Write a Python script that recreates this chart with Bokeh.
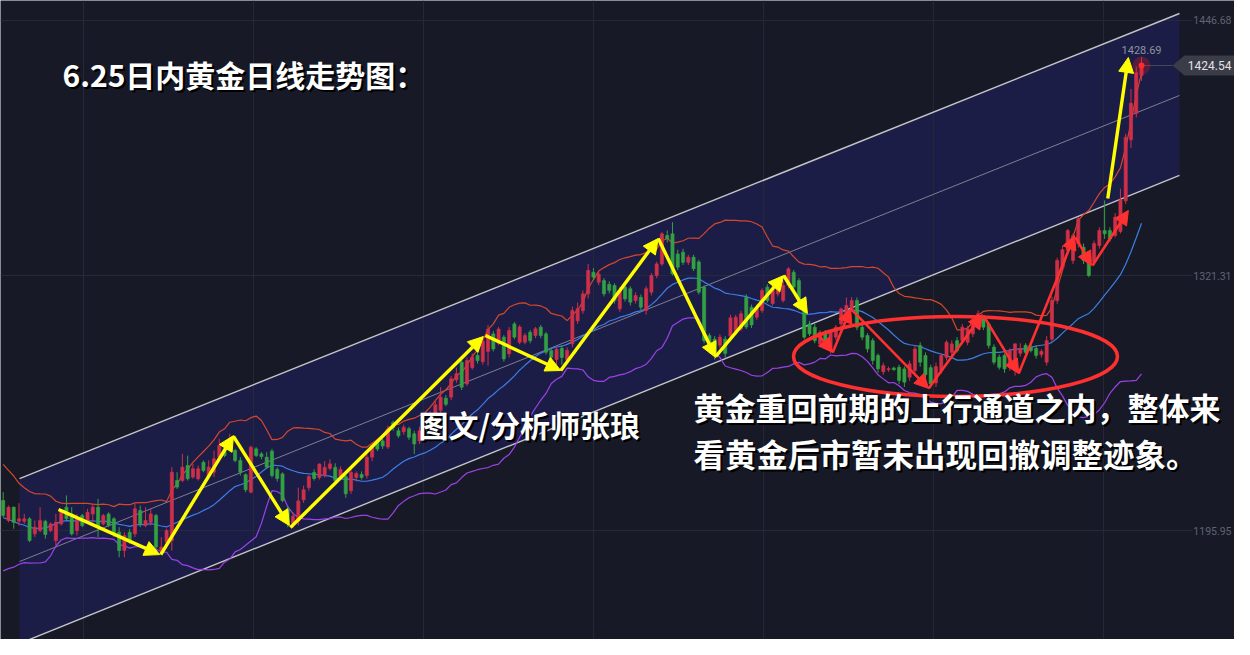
import pandas as pd
from bokeh.plotting import figure
from bokeh.models import Range1d, ColumnDataSource, Arrow, NormalHead, Label
from bokeh.core.properties import value
from bokeh.embed import file_html
from bokeh.resources import INLINE

# ---------------- data (daily gold candles) ----------------
opens = [
    1210.7, 1200.9, 1207.4, 1200.5, 1200.5, 1201.7, 1194.3, 1195.9, 1200.5, 1195.9,
    1191.0, 1199.2, 1207.4, 1204.1, 1195.9, 1203.3, 1200.9, 1204.1, 1207.4, 1199.2,
    1204.1, 1201.7, 1195.1, 1186.1, 1195.1, 1194.3, 1205.8, 1198.4, 1200.0, 1203.3,
    1186.1, 1190.2, 1191.0, 1220.5, 1220.5, 1227.9, 1222.2, 1221.4, 1229.5, 1223.0,
    1224.6, 1232.0, 1236.1, 1236.9, 1235.3, 1230.4, 1223.4, 1214.8, 1236.1, 1233.6,
    1232.0, 1235.0, 1226.0, 1223.8, 1206.6, 1199.5, 1200.5, 1211.0, 1217.0, 1224.5,
    1222.0, 1223.0, 1226.5, 1227.0, 1222.5, 1222.5, 1215.5, 1222.0, 1223.5, 1223.0,
    1232.0, 1239.4, 1240.0, 1237.0, 1249.0, 1245.0, 1244.5, 1246.0, 1243.5, 1240.0,
    1248.0, 1246.0, 1252.0, 1255.0, 1261.0, 1261.5, 1270.0, 1278.7, 1268.0, 1276.0,
    1282.0, 1279.0, 1284.0, 1292.6, 1288.0, 1291.0, 1282.8, 1297.5, 1288.5, 1288.5,
    1293.4, 1291.8, 1295.9, 1292.6, 1284.4, 1280.0, 1285.5, 1280.0, 1287.7, 1299.0,
    1304.0, 1312.3, 1322.9, 1318.0, 1318.8, 1317.0, 1316.4, 1304.9, 1315.6, 1314.8,
    1309.0, 1310.6, 1304.1, 1313.1, 1321.3, 1327.0, 1341.0, 1341.8, 1331.9, 1332.8,
    1327.8, 1330.3, 1328.0, 1315.6, 1291.8, 1290.0, 1287.0, 1290.0, 1291.5, 1293.5,
    1295.0, 1310.5, 1305.7, 1300.8, 1304.1, 1315.6, 1307.5, 1312.3, 1309.0, 1316.4,
    1322.9, 1318.8, 1308.2, 1297.5, 1295.9, 1287.7, 1293.4, 1286.0, 1291.0, 1297.5,
    1302.5, 1305.0, 1309.0, 1295.9, 1291.8, 1289.3, 1282.0, 1274.0, 1275.0, 1275.8,
    1276.2, 1275.4, 1271.3, 1274.6, 1286.9, 1282.0, 1276.0, 1268.5, 1274.5, 1281.0,
    1283.6, 1289.3, 1289.3, 1288.5, 1292.6, 1297.5, 1300.0, 1297.5, 1286.1, 1281.2,
    1282.0, 1276.2, 1274.6, 1283.0, 1287.0, 1286.1, 1285.5, 1282.5, 1278.7, 1290.0,
    1309.0, 1325.0, 1333.6, 1328.7, 1336.9, 1335.2, 1330.3, 1327.9, 1336.0, 1343.4,
    1343.4, 1341.0, 1343.0, 1358.0, 1388.0, 1401.0, 1419.6,
]
highs = [
    1214.8, 1208.2, 1207.7, 1209.4, 1204.1, 1202.5, 1200.9, 1207.4, 1201.2, 1200.0,
    1204.1, 1205.8, 1213.2, 1207.4, 1204.1, 1204.1, 1206.6, 1209.1, 1211.5, 1204.1,
    1204.9, 1202.5, 1197.6, 1195.1, 1196.8, 1209.1, 1208.2, 1207.4, 1206.6, 1204.1,
    1192.7, 1196.8, 1227.1, 1224.6, 1233.6, 1232.8, 1228.7, 1227.9, 1230.4, 1230.4,
    1235.3, 1241.0, 1237.7, 1243.5, 1236.1, 1232.0, 1224.0, 1237.7, 1236.9, 1234.5,
    1234.4, 1236.1, 1227.0, 1224.5, 1208.0, 1205.0, 1217.0, 1218.0, 1223.5, 1226.0,
    1229.0, 1230.0, 1231.0, 1229.0, 1227.5, 1225.0, 1226.0, 1225.0, 1225.0, 1233.5,
    1239.0, 1240.5, 1241.0, 1247.5, 1250.0, 1246.5, 1248.0, 1247.0, 1245.0, 1247.0,
    1249.5, 1254.5, 1260.0, 1266.4, 1262.5, 1272.0, 1276.0, 1280.0, 1281.0, 1283.0,
    1283.5, 1291.5, 1297.0, 1294.0, 1296.0, 1292.0, 1296.0, 1298.5, 1297.0, 1293.0,
    1294.5, 1296.0, 1297.0, 1293.5, 1285.5, 1286.0, 1287.0, 1286.0, 1306.0, 1308.0,
    1314.0, 1327.0, 1325.0, 1323.5, 1320.0, 1318.5, 1317.5, 1315.5, 1317.0, 1316.0,
    1313.0, 1312.0, 1316.0, 1322.5, 1328.0, 1342.6, 1343.5, 1347.5, 1334.0, 1334.5,
    1331.5, 1331.5, 1329.0, 1316.5, 1293.0, 1291.5, 1292.5, 1291.5, 1302.0, 1302.0,
    1304.0, 1312.0, 1307.0, 1307.0, 1315.0, 1317.0, 1316.0, 1320.0, 1318.5, 1325.4,
    1324.0, 1320.0, 1309.5, 1299.0, 1297.5, 1294.5, 1294.5, 1294.0, 1297.0, 1305.5,
    1310.5, 1310.7, 1310.5, 1297.0, 1293.0, 1290.5, 1283.0, 1278.5, 1276.5, 1276.5,
    1277.5, 1276.5, 1279.5, 1287.0, 1288.5, 1283.5, 1277.5, 1278.5, 1283.0, 1289.5,
    1289.5, 1291.0, 1297.5, 1296.5, 1301.0, 1304.1, 1301.5, 1298.5, 1287.5, 1282.5,
    1283.0, 1285.5, 1288.0, 1288.0, 1288.0, 1287.5, 1287.0, 1285.0, 1291.5, 1311.0,
    1330.0, 1336.0, 1344.2, 1342.0, 1350.0, 1337.0, 1331.5, 1338.5, 1345.0, 1358.2,
    1345.0, 1352.0, 1364.0, 1391.0, 1413.0, 1424.0, 1428.69,
]
lows = [
    1202.5, 1200.0, 1196.8, 1198.4, 1199.2, 1190.2, 1192.7, 1195.1, 1191.9, 1195.1,
    1188.6, 1198.4, 1200.9, 1193.5, 1193.5, 1197.6, 1200.0, 1200.0, 1192.7, 1198.4,
    1197.6, 1192.7, 1182.8, 1182.8, 1189.4, 1192.7, 1197.6, 1197.6, 1198.4, 1185.3,
    1184.5, 1189.4, 1186.1, 1216.4, 1219.7, 1220.5, 1221.4, 1220.5, 1224.6, 1222.2,
    1222.2, 1230.4, 1232.0, 1235.3, 1229.5, 1223.0, 1214.8, 1214.3, 1232.0, 1231.0,
    1226.3, 1222.0, 1220.0, 1209.9, 1197.6, 1197.5, 1198.5, 1209.5, 1215.5, 1220.5,
    1221.0, 1222.0, 1225.5, 1219.5, 1221.0, 1212.0, 1214.0, 1220.0, 1221.0, 1221.5,
    1230.0, 1235.0, 1236.0, 1236.0, 1245.0, 1241.5, 1243.0, 1240.5, 1233.5, 1238.5,
    1243.5, 1245.0, 1250.0, 1254.0, 1257.0, 1260.0, 1268.5, 1265.0, 1267.0, 1275.0,
    1278.0, 1277.5, 1277.0, 1284.0, 1287.0, 1279.0, 1281.0, 1290.0, 1287.5, 1287.5,
    1288.0, 1290.5, 1290.5, 1282.5, 1279.0, 1275.5, 1277.5, 1278.0, 1286.0, 1297.5,
    1302.5, 1310.0, 1319.0, 1316.5, 1311.0, 1312.5, 1307.5, 1303.5, 1308.5, 1306.5,
    1307.5, 1304.0, 1302.0, 1311.5, 1320.0, 1326.0, 1337.5, 1321.3, 1324.0, 1326.5,
    1326.5, 1323.5, 1312.0, 1288.0, 1283.0, 1280.0, 1285.5, 1281.0, 1290.0, 1292.0,
    1294.0, 1295.0, 1295.5, 1299.5, 1303.0, 1308.0, 1306.5, 1311.0, 1308.0, 1315.0,
    1314.5, 1304.5, 1290.0, 1291.5, 1288.0, 1286.5, 1288.0, 1283.0, 1289.5, 1296.0,
    1301.0, 1303.5, 1294.5, 1289.5, 1283.5, 1277.5, 1273.5, 1272.5, 1274.0, 1274.5,
    1268.0, 1266.5, 1269.5, 1273.0, 1276.5, 1270.0, 1266.0, 1266.5, 1273.0, 1279.5,
    1282.0, 1283.5, 1287.5, 1287.0, 1291.0, 1296.0, 1294.5, 1285.5, 1277.5, 1275.0,
    1273.5, 1274.5, 1272.1, 1281.5, 1282.0, 1283.5, 1280.5, 1281.0, 1277.0, 1288.5,
    1307.4, 1323.0, 1332.0, 1327.0, 1335.0, 1327.0, 1320.5, 1326.5, 1334.5, 1339.3,
    1338.0, 1340.0, 1342.0, 1356.5, 1384.0, 1399.0, 1417.0,
]
closes = [
    1203.3, 1207.4, 1200.0, 1201.7, 1201.7, 1191.0, 1197.6, 1200.9, 1194.0, 1199.2,
    1200.0, 1204.9, 1201.7, 1194.3, 1201.7, 1198.4, 1204.9, 1207.4, 1197.6, 1203.3,
    1198.4, 1194.3, 1186.1, 1193.5, 1190.2, 1206.6, 1199.2, 1200.9, 1204.1, 1187.8,
    1187.8, 1195.9, 1224.6, 1217.3, 1227.1, 1221.4, 1226.3, 1226.3, 1225.4, 1227.1,
    1231.2, 1237.7, 1232.8, 1241.0, 1230.4, 1224.6, 1216.0, 1236.9, 1232.8, 1232.3,
    1227.1, 1223.0, 1221.5, 1210.7, 1200.0, 1203.0, 1210.5, 1216.0, 1222.5, 1221.5,
    1228.6, 1227.0, 1228.7, 1220.5, 1226.0, 1214.0, 1224.5, 1224.0, 1222.0, 1232.0,
    1237.7, 1236.0, 1237.5, 1245.9, 1246.5, 1242.5, 1246.7, 1241.8, 1238.5, 1245.0,
    1245.0, 1253.0, 1257.8, 1261.5, 1258.0, 1270.5, 1273.0, 1266.4, 1279.5, 1281.2,
    1279.5, 1289.0, 1295.0, 1285.2, 1295.0, 1280.3, 1294.3, 1291.0, 1296.0, 1291.8,
    1289.3, 1295.1, 1291.8, 1283.6, 1281.1, 1285.0, 1281.0, 1284.5, 1304.1, 1305.0,
    1312.3, 1323.8, 1320.5, 1322.0, 1312.3, 1314.0, 1309.0, 1314.0, 1309.8, 1308.2,
    1311.5, 1305.7, 1314.8, 1321.3, 1327.0, 1341.8, 1339.3, 1322.1, 1325.4, 1327.8,
    1330.3, 1324.6, 1313.1, 1289.3, 1284.4, 1283.0, 1291.0, 1283.0, 1300.5, 1300.8,
    1302.5, 1296.0, 1297.0, 1305.7, 1313.9, 1309.0, 1314.8, 1318.8, 1316.4, 1324.6,
    1315.6, 1305.7, 1291.0, 1292.6, 1289.3, 1293.4, 1289.3, 1293.4, 1295.9, 1304.9,
    1306.6, 1309.0, 1295.9, 1291.0, 1285.2, 1279.5, 1275.4, 1277.0, 1275.5, 1275.0,
    1269.7, 1268.9, 1277.9, 1285.2, 1278.7, 1272.5, 1268.0, 1276.5, 1282.0, 1288.5,
    1287.7, 1284.4, 1295.9, 1295.1, 1300.0, 1302.5, 1295.9, 1286.9, 1278.7, 1276.2,
    1275.4, 1284.4, 1287.7, 1285.5, 1283.5, 1284.4, 1282.0, 1284.0, 1289.3, 1309.0,
    1328.7, 1334.0, 1343.4, 1340.9, 1349.2, 1328.7, 1321.3, 1337.0, 1343.4, 1341.8,
    1339.3, 1350.0, 1358.5, 1389.3, 1406.0, 1421.0, 1424.54,
]
# closes before the first visible candle (they only feed the 20-day Bollinger bands)
prior_closes = [1225, 1221, 1223, 1216, 1212, 1207, 1202, 1189, 1180, 1177,
                1185, 1193, 1196, 1202, 1197, 1205, 1209, 1203, 1200]

price_ticks = [1195.95, 1321.31, 1446.68]
month_ticks = [15.24, 47.5, 79.75, 112.0, 144.3, 176.5, 208.8]
high_label = "1428.69"

# analyst's drawing: channel, arrows, ellipse (candle index, price)
channel_x = [3.1, 223.2]
channel_upper = [1221.5, 1450.1]
channel_mid = [1180.7, 1409.8]
channel_lower = [1140.4, 1370.5]

yellow_x0 = [10.5, 29.9, 43.7, 54.5, 91.5, 105.8, 124.3, 135.2, 148.1, 209.6]
yellow_y0 = [1206.3, 1184.1, 1242.2, 1197.4, 1291.8, 1274.6, 1339.5, 1281.5, 1321.3, 1359.2]
yellow_x1 = [29.7, 43.7, 54.3, 91.1, 105.8, 124.3, 135.2, 148.1, 152.6, 213.5]
yellow_y1 = [1184.1, 1242.6, 1198.4, 1291.3, 1274.6, 1339.5, 1281.0, 1321.3, 1302.6, 1428.5]

red_x0 = [154.5, 157.4, 160.8, 175.6, 186.0, 192.7, 203.5, 206.7]
red_y0 = [1292.8, 1283.5, 1305.0, 1265.8, 1301.6, 1273.1, 1340.0, 1326.2]
red_x1 = [157.4, 160.8, 175.6, 185.8, 192.7, 203.3, 206.5, 213.5]
red_y1 = [1283.5, 1305.0, 1265.8, 1302.1, 1273.1, 1341.0, 1326.2, 1353.3]

ellipse_x = [180.7]
ellipse_y = [1281.5]

title_text = "6.25日内黄金日线走势图："
credit_text = "图文/分析师张琅"
note_lines = ["黄金重回前期的上行通道之内，整体来", "看黄金后市暂未出现回撤调整迹象。"]

# ---------------- styling / layout ----------------
BG = "#171a26"
CHANNEL = "#1c1d47"
GRID = "#262a38"
UP = "#cf3049"
DOWN = "#34a044"
YEL = "#ffff00"
ARROW_RED = "#ff3030"
FONT_CJK = "Noto Sans CJK SC"

BAR_PX = 5.27
PRICE_PER_PX = 0.4916


def dx(X):  # picture column -> candle index
    return (X - 2.7) / BAR_PX


def dy(Y):  # picture row -> price
    return 1321.31 + (275 - Y) * PRICE_PER_PX


W, H = 1234, 639
GRID_RIGHT = 1192   # right end of the chart grid; price scale beyond it
SCALE_RIGHT = 1231  # right edge of the price-scale texts

p = figure(width=W, height=H, output_backend="svg", toolbar_location=None, title=None,
           x_range=Range1d(dx(0), dx(W)), y_range=Range1d(dy(H), dy(0)),
           x_axis_location=None, y_axis_location=None,
           min_border=0, background_fill_color=BG, border_fill_color=BG,
           outline_line_color=None)
p.grid.visible = False

# channel shading (below the grid)
p.patch(x=[channel_x[0], channel_x[1], channel_x[1], channel_x[0]],
        y=[channel_upper[0], channel_upper[1], channel_lower[1], channel_lower[0]],
        fill_color=CHANNEL, line_color=None, level="image")

# grid lines
y_top, y_bot = dy(0), dy(H)
p.segment(x0=month_ticks, x1=month_ticks, y0=[y_bot] * len(month_ticks),
          y1=[y_top] * len(month_ticks), line_color=GRID, line_width=1, level="underlay")
p.segment(x0=[dx(0)] * len(price_ticks), x1=[dx(GRID_RIGHT)] * len(price_ticks),
          y0=price_ticks, y1=price_ticks, line_color=GRID, line_width=1, level="underlay")

# price scale labels
p.text(x=[dx(SCALE_RIGHT)] * len(price_ticks), y=price_ticks,
       text=[f"{v:.2f}" for v in price_ticks], text_font=value("Roboto"),
       text_font_size=value("10.5px"), text_color="#5f6374",
       text_baseline="middle", text_align="right")

# channel lines
p.line(channel_x, channel_upper, line_color="#c4c4c8", line_width=1.4)
p.line(channel_x, channel_lower, line_color="#c4c4c8", line_width=1.4)
p.line(channel_x, channel_mid, line_color="#7e7f92", line_width=1)

# Bollinger bands (20, 2)
all_c = pd.Series(prior_closes + closes, dtype=float)
ma = all_c.rolling(20).mean()
sd = all_c.rolling(20).std(ddof=0)
n0 = len(prior_closes)
idx = list(range(len(closes)))
mid_band = ma.iloc[n0:].to_numpy()
up_band = (ma + 2 * sd).iloc[n0:].to_numpy()
lo_band = (ma - 2 * sd).iloc[n0:].to_numpy()
p.line(idx, up_band, line_color="#d4472b", line_width=1.2)
p.line(idx, mid_band, line_color="#3b7fe6", line_width=1.2)
p.line(idx, lo_band, line_color="#9a42e8", line_width=1.2)

# candles
colors = [UP if c >= o else DOWN for o, c in zip(opens, closes)]
src = ColumnDataSource(dict(
    x=idx, h=highs, l=lows,
    top=[max(o, c) for o, c in zip(opens, closes)],
    bottom=[min(o, c) for o, c in zip(opens, closes)],
    color=colors))
p.segment(x0="x", y0="h", x1="x", y1="l", line_color="color", line_width=1, source=src)
p.vbar(x="x", top="top", bottom="bottom", width=0.6, fill_color="color",
       line_color="color", line_width=0.6, source=src)

# last price marker, line and tag
last_i = idx[-1]
last_c = closes[-1]
p.segment(x0=[last_i], y0=[last_c], x1=[dx(1172)], y1=[last_c],
          line_color="#454857", line_width=1)
p.scatter([last_i], [last_c], size=18, fill_color="#ff1a1a", fill_alpha=0.25, line_color=None)
p.scatter([last_i], [last_c], size=6, fill_color="#ff2a2a", line_color=None)
tag_half = 10 * PRICE_PER_PX
p.patch(x=[dx(1172), dx(1184), dx(W), dx(W), dx(1184)],
        y=[last_c, last_c + tag_half, last_c + tag_half, last_c - tag_half, last_c - tag_half],
        fill_color="#3a3d48", line_color=None)
p.text(x=[dx(SCALE_RIGHT)], y=[last_c], text=[f"{last_c:.2f}"], text_font=value("Roboto"),
       text_font_size=value("12px"), text_color="#e2e2e6",
       text_baseline="middle", text_align="right")
p.text(x=[last_i], y=[max(highs)], text=[high_label], text_font=value("Roboto"),
       text_font_size=value("11px"), text_color="#8e91a0", y_offset=-3,
       text_baseline="bottom", text_align="center")

# ellipse
p.ellipse(x=ellipse_x, y=ellipse_y, width=324, height=80,
          width_units="screen", height_units="screen",
          fill_color=None, line_color=ARROW_RED, line_width=3.5)

# arrows
ysrc = ColumnDataSource(dict(x0=yellow_x0, y0=yellow_y0, x1=yellow_x1, y1=yellow_y1))
p.add_layout(Arrow(x_start="x0", y_start="y0", x_end="x1", y_end="y1", source=ysrc,
                   line_color=YEL, line_width=3.4,
                   end=NormalHead(size=15, fill_color=YEL, line_color=YEL, line_width=1)))
rsrc = ColumnDataSource(dict(x0=red_x0, y0=red_y0, x1=red_x1, y1=red_y1))
p.add_layout(Arrow(x_start="x0", y_start="y0", x_end="x1", y_end="y1", source=rsrc,
                   line_color=ARROW_RED, line_width=2.6,
                   end=NormalHead(size=14, fill_color=ARROW_RED, line_color=ARROW_RED,
                                  line_width=1)))


# annotation texts (white with a dark shadow); Y is the visual centre of the glyphs
def add_text(txt, X, Y, size):
    for col, off in (("#000000", 2), ("#ffffff", 0)):
        p.add_layout(Label(x=dx(X), y=dy(Y - 4), text=txt, x_offset=off, y_offset=-off,
                           text_color=col, text_font=FONT_CJK, text_font_size=size,
                           text_font_style="bold", text_align="left",
                           text_baseline="middle"))


add_text(title_text, 62, 77, "30px")
add_text(credit_text, 418, 427, "30px")
add_text(note_lines[0], 693, 410, "31px")
add_text(note_lines[1], 693, 456, "31.5px")

open("out.html", "w").write(file_html(p, INLINE))
